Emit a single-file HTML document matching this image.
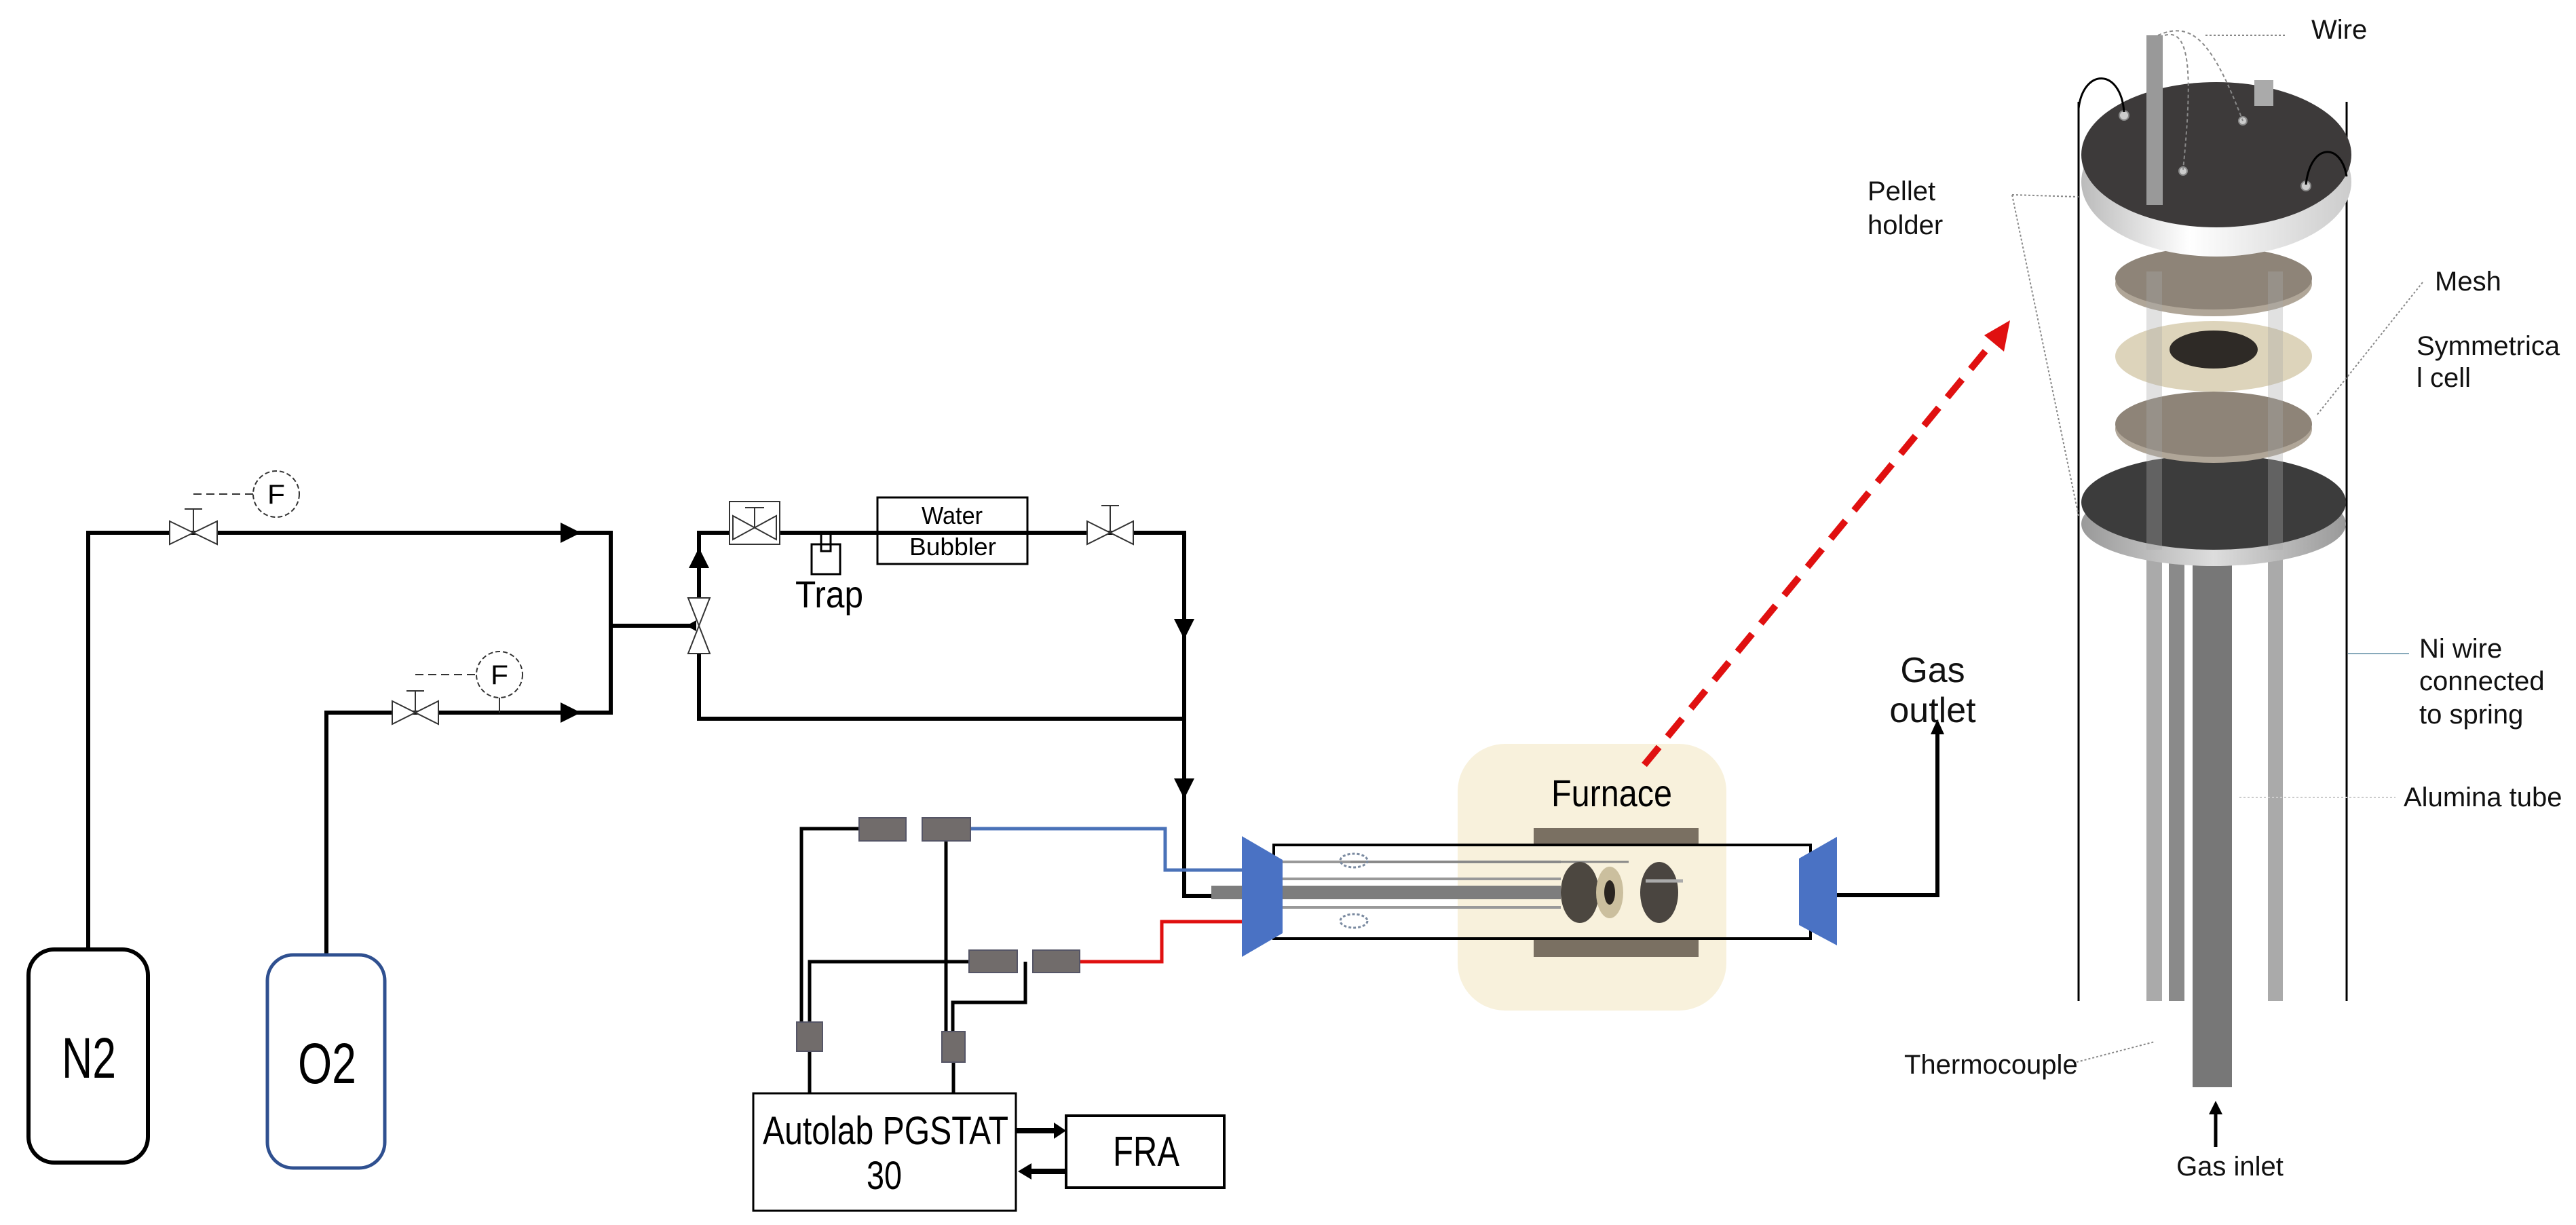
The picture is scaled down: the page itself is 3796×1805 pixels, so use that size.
<!DOCTYPE html>
<html><head><meta charset="utf-8"><style>
html,body{margin:0;padding:0;background:#fff;}
svg{display:block;}
.c{font-family:"Liberation Sans",sans-serif;}
.a{font-family:"Liberation Sans",sans-serif;font-size:40px;fill:#111;}
</style></head><body>
<svg width="3796" height="1805" viewBox="0 0 3796 1805" xmlns="http://www.w3.org/2000/svg">
<defs>
<linearGradient id="rim" x1="0" x2="1" y1="0" y2="0"><stop offset="0" stop-color="#bbb"/><stop offset=".4" stop-color="#fff"/><stop offset="1" stop-color="#ccc"/></linearGradient>
<linearGradient id="rim2" x1="0" x2="1"><stop offset="0" stop-color="#999"/><stop offset=".5" stop-color="#ddd"/><stop offset="1" stop-color="#999"/></linearGradient>
</defs>
<g fill="none" stroke="#000" stroke-width="6">
<rect x="42" y="1399" width="176" height="314" rx="38"/>
<path d="M130 1399 V785 H900 V1050 H481 V1407"/>
<path d="M900 922 H1025"/>
<path d="M1030 881 V785 H1745 V1320 H1790"/>
<path d="M1030 963 V1059 H1745"/>
</g>
<rect x="394" y="1407" width="173" height="314" rx="38" fill="none" stroke="#2f5090" stroke-width="5"/>
<g fill="#000">
<polygon points="826,770 856,785 826,800"/>
<polygon points="826,1035 856,1050 826,1065"/>
<polygon points="1015,837 1030,807 1045,837"/>
<polygon points="1730,912 1745,942 1760,912"/>
<polygon points="1730,1147 1745,1177 1760,1147"/>
<polygon points="1011,922 1026,914 1026,930"/>
</g>
<g fill="#fff" stroke="#333" stroke-width="2">
<polygon points="250,768 320,802 320,768 250,802"/>
<polygon points="578,1033 646,1067 646,1033 578,1067"/>
<polygon points="1602,768 1670,802 1670,768 1602,802"/>
<polygon points="1014,881 1046,963 1014,963 1046,881"/>
<rect x="1075" y="739" width="74" height="63"/>
<polygon points="1080,760 1144,795 1144,760 1080,795"/>
</g>
<g stroke="#333" stroke-width="2" fill="none">
<path d="M285 785 V750 M272 750 H298"/><path d="M612 1050 V1018 M599 1018 H625"/>
<path d="M1636 785 V745 M1623 745 H1649"/><path d="M1112 777 V748 M1098 748 H1126"/>
<path d="M285 728 H373" stroke-dasharray="12 7"/><path d="M612 994 H702" stroke-dasharray="12 7"/>
<circle cx="407" cy="728" r="34" stroke-dasharray="7 4"/><circle cx="736" cy="994" r="34" stroke-dasharray="7 4"/>
<path d="M736 1028 V1050"/>
<rect x="1196" y="802" width="42" height="44" stroke="#000" stroke-width="3"/>
<path d="M1210 785 V812 H1224 V785" stroke="#000" stroke-width="3"/>
<rect x="1293" y="733" width="221" height="98" stroke="#000" stroke-width="3"/>
</g>
<text class="c" x="394" y="742" font-size="40" textLength="26" lengthAdjust="spacingAndGlyphs">F</text>
<text class="c" x="723" y="1008" font-size="40" textLength="26" lengthAdjust="spacingAndGlyphs">F</text>
<text class="c" x="1358" y="772" font-size="36" textLength="90" lengthAdjust="spacingAndGlyphs">Water</text>
<text class="c" x="1340" y="818" font-size="36" textLength="128" lengthAdjust="spacingAndGlyphs">Bubbler</text>
<text class="c" x="1172" y="895" font-size="56" textLength="100" lengthAdjust="spacingAndGlyphs">Trap</text>
<text class="c" x="91" y="1588" font-size="84" textLength="80" lengthAdjust="spacingAndGlyphs">N2</text>
<text class="c" x="439" y="1596" font-size="84" textLength="86" lengthAdjust="spacingAndGlyphs">O2</text>
<g fill="none" stroke-width="5">
<path d="M1430 1221 H1717 V1282 H1832" stroke="#4a72b8"/>
<path d="M1591 1417 H1712 V1358 H1832" stroke="#e01010"/>
<g stroke="#000" stroke-width="5">
<path d="M1266 1221 H1181 V1506"/>
<path d="M1394 1239 V1520"/>
<path d="M1428 1417 H1193 V1506"/>
<path d="M1511 1417 V1477 H1404 V1520"/>
<path d="M1193 1549 V1611 M1405 1565 V1611"/>
</g></g>
<g fill="#716c6b" stroke="#556" stroke-width="2">
<rect x="1266" y="1205" width="69" height="34"/><rect x="1359" y="1205" width="71" height="34"/>
<rect x="1428" y="1400" width="71" height="33"/><rect x="1522" y="1400" width="69" height="33"/>
<rect x="1174" y="1506" width="38" height="43"/><rect x="1388" y="1520" width="34" height="45"/>
</g>
<rect x="1110" y="1611" width="387" height="173" fill="none" stroke="#000" stroke-width="3"/>
<rect x="1571" y="1644" width="233" height="106" fill="none" stroke="#000" stroke-width="4"/>
<path d="M1497 1666 H1555 M1518 1726 H1571" stroke="#000" stroke-width="8"/>
<polygon points="1553,1654 1571,1666 1553,1678" fill="#000"/>
<polygon points="1500,1726 1520,1714 1520,1738" fill="#000"/>
<text class="c" x="1124" y="1686" font-size="58" textLength="362" lengthAdjust="spacingAndGlyphs">Autolab PGSTAT</text>
<text class="c" x="1277" y="1752" font-size="58" textLength="52" lengthAdjust="spacingAndGlyphs">30</text>
<text class="c" x="1640" y="1718" font-size="62" textLength="98" lengthAdjust="spacingAndGlyphs">FRA</text>
<rect x="2148" y="1096" width="396" height="393" rx="70" fill="#f8f1dc"/>
<rect x="2260" y="1220" width="243" height="27" fill="#7a7062"/>
<rect x="2260" y="1383" width="243" height="27" fill="#7a7062"/>
<text class="c" x="2286" y="1188" font-size="56" textLength="178" lengthAdjust="spacingAndGlyphs">Furnace</text>
<rect x="1877" y="1245" width="791" height="138" fill="none" stroke="#000" stroke-width="4"/>
<g stroke-width="4">
<path d="M1890 1270 H2300 M1890 1295 H2300 M1890 1337 H2300" stroke="#999"/>
<path d="M1785 1315 H2300" stroke="#7d7d7d" stroke-width="20"/>
<path d="M1990 1270 H2400" stroke="#888" stroke-width="3"/>
</g>
<ellipse cx="1995" cy="1268" rx="20" ry="10" fill="none" stroke="#7a8aa0" stroke-width="3" stroke-dasharray="4 3"/>
<ellipse cx="1995" cy="1357" rx="20" ry="10" fill="none" stroke="#7a8aa0" stroke-width="3" stroke-dasharray="4 3"/>
<ellipse cx="2328" cy="1315" rx="28" ry="45" fill="#4c4740"/>
<ellipse cx="2372" cy="1315" rx="20" ry="38" fill="#cbbf9e"/>
<ellipse cx="2372" cy="1315" rx="8" ry="18" fill="#2a2520"/>
<ellipse cx="2445" cy="1315" rx="28" ry="45" fill="#4a4540"/>
<path d="M2425 1298 H2480" stroke="#aaa" stroke-width="5"/>
<polygon points="1830,1232 1890,1267 1890,1375 1830,1410" fill="#4a72c4"/>
<polygon points="2707,1233 2651,1265 2651,1363 2707,1393" fill="#4a72c4"/>
<path d="M2707 1319 H2855 V1075" fill="none" stroke="#000" stroke-width="6"/>
<polygon points="2845,1082 2855,1060 2865,1082" fill="#000"/>
<text class="a" x="2848" y="1005" text-anchor="middle" style="font-size:52px">Gas</text>
<text class="a" x="2848" y="1064" text-anchor="middle" style="font-size:52px">outlet</text>
<path d="M2423 1127 L2940 500" stroke="#e01010" stroke-width="10" stroke-dasharray="34 20" fill="none"/>
<polygon points="2962,472 2953,518 2924,494" fill="#e01010"/>
<g>
<path d="M3063 150 V1475 M3458 150 V1475" stroke="#000" stroke-width="3" fill="none"/>
<rect x="3163" y="810" width="23" height="665" fill="#aaa"/>
<rect x="3196" y="810" width="23" height="665" fill="#8a8a8a"/>
<rect x="3231" y="760" width="58" height="842" fill="#777"/>
<rect x="3342" y="810" width="22" height="665" fill="#aaa"/>
<ellipse cx="3262" cy="772" rx="195" ry="62" fill="url(#rim2)"/>
<ellipse cx="3262" cy="740" rx="195" ry="70" fill="#3c3c3c"/>
<ellipse cx="3262" cy="632" rx="145" ry="50" fill="#b0a698"/>
<ellipse cx="3262" cy="625" rx="145" ry="48" fill="#8e8478"/>
<ellipse cx="3262" cy="525" rx="145" ry="52" fill="#ddd4bb"/>
<ellipse cx="3262" cy="515" rx="65" ry="28" fill="#2e2a26"/>
<ellipse cx="3262" cy="418" rx="145" ry="48" fill="#b0a698"/>
<ellipse cx="3262" cy="410" rx="145" ry="46" fill="#8e8478"/>
<rect x="3163" y="400" width="23" height="410" fill="#aaa" opacity=".35"/>
<rect x="3342" y="400" width="22" height="410" fill="#aaa" opacity=".35"/>
<ellipse cx="3266" cy="268" rx="199" ry="110" fill="url(#rim)"/>
<ellipse cx="3266" cy="228" rx="199" ry="107" fill="#3d3a3a"/>
<rect x="3163" y="52" width="24" height="250" fill="#999"/>
<rect x="3322" y="118" width="28" height="38" fill="#aaa"/>
<g fill="#ccc" stroke="#888" stroke-width="2"><circle cx="3130" cy="170" r="7"/><circle cx="3305" cy="178" r="6"/><circle cx="3217" cy="252" r="6"/><circle cx="3398" cy="274" r="7"/></g>
<path d="M3063 160 C3070 100 3125 100 3130 165 M3398 272 C3405 210 3450 210 3458 260" stroke="#000" stroke-width="3" fill="none"/>
<path d="M3180 52 C3230 30 3260 60 3305 178 M3190 52 C3230 40 3230 120 3217 250" stroke="#888" stroke-width="2" fill="none" stroke-dasharray="5 4"/>
</g>
<g stroke="#888" stroke-width="2" fill="none" stroke-dasharray="3 3">
<path d="M3250 52 H3370"/><path d="M2965 287 L3063 290 M2965 287 L3063 760"/>
<path d="M3570 416 L3413 613"/><path d="M3460 963 H3550" stroke="#8ab" stroke-dasharray="none"/>
<path d="M3300 1175 H3530" stroke="#ccc"/><path d="M3060 1565 L3175 1535"/>
</g>
<path d="M3265 1690 V1640" stroke="#000" stroke-width="5"/>
<polygon points="3255,1642 3265,1622 3275,1642" fill="#000"/>
<text class="a" x="3406" y="57">Wire</text>
<text class="a" x="2752" y="295">Pellet</text>
<text class="a" x="2752" y="345">holder</text>
<text class="a" x="3588" y="428">Mesh</text>
<text class="a" x="3561" y="523">Symmetrica</text>
<text class="a" x="3561" y="570">l cell</text>
<text class="a" x="3565" y="969">Ni wire</text>
<text class="a" x="3565" y="1017">connected</text>
<text class="a" x="3565" y="1066">to spring</text>
<text class="a" x="3542" y="1188">Alumina tube</text>
<text class="a" x="2806" y="1582">Thermocouple</text>
<text class="a" x="3286" y="1732" text-anchor="middle">Gas inlet</text>
</svg>
</body></html>
